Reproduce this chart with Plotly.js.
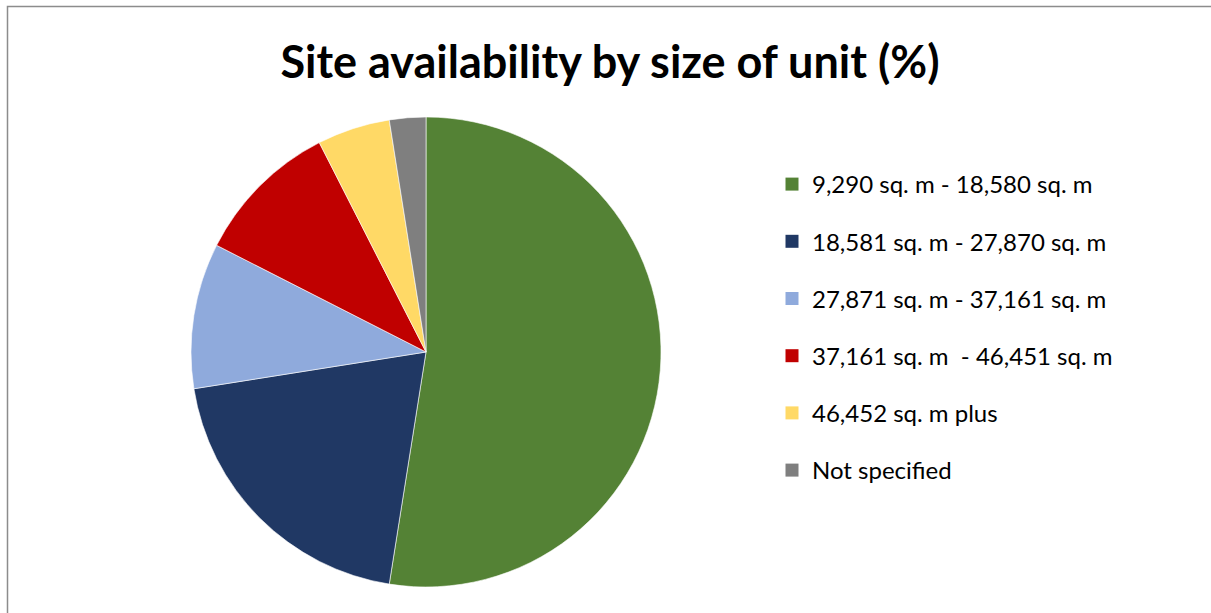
<!DOCTYPE html>
<html>
<head>
<meta charset="utf-8">
<script src="https://cdn.plot.ly/plotly-3.0.1.min.js"></script>
<style>
  html, body { margin: 0; padding: 0; background: #ffffff; }
  #chart { width: 1211px; height: 613px; }
</style>
</head>
<body>
<div id="chart"></div>
<script>
const categories = [
  "9,290 sq. m - 18,580 sq. m",
  "18,581 sq. m - 27,870 sq. m",
  "27,871 sq. m - 37,161 sq. m",
  "37,161 sq. m  - 46,451 sq. m",
  "46,452 sq. m plus",
  "Not specified"
];
const values = [52.5, 20, 10, 10, 5, 2.5];
const colors = ["#548235", "#203864", "#8FAADC", "#C00000", "#FFD966", "#7F7F7F"];
const chartTitle = "Site availability by size of unit (%)";

const W = 1211, H = 613;

const pie = {
  type: "pie",
  labels: categories,
  values: values,
  sort: false,
  direction: "clockwise",
  rotation: 0,
  textinfo: "none",
  hoverinfo: "label+value",
  showlegend: false,
  marker: { colors: colors, line: { color: "#ffffff", width: 0.6 } },
  domain: { x: [191 / W, 661 / W], y: [1 - 587 / H, 1 - 117 / H] }
};

const legendTraces = categories.map((c, i) => ({
  type: "scatter",
  mode: "markers",
  x: [null], y: [null],
  name: c,
  legendgroup: "g" + i,
  marker: { symbol: "square", size: 13, color: colors[i] },
  hoverinfo: "skip"
}));

const layout = {
  width: W, height: H,
  margin: { l: 0, r: 0, t: 0, b: 0 },
  paper_bgcolor: "#ffffff",
  plot_bgcolor: "#ffffff",
  font: { family: "Lato, 'Open Sans', sans-serif", color: "#000000" },
  title: {
    text: "<b>" + chartTitle + "</b>",
    font: { family: "Lato, 'Open Sans', sans-serif", size: 45, color: "#000000" },
    x: 610 / W, xanchor: "center",
    y: 1 - 62 / H, yanchor: "middle",
    xref: "paper", yref: "paper"
  },
  xaxis: { visible: false },
  yaxis: { visible: false },
  showlegend: true,
  legend: {
    x: 772 / W, xanchor: "left",
    y: 1 - 162 / H, yanchor: "top",
    font: { size: 24, color: "#000000" },
    tracegroupgap: 23,
    bgcolor: "rgba(0,0,0,0)",
    itemclick: false, itemdoubleclick: false
  },
  shapes: [{
    type: "rect", xref: "paper", yref: "paper",
    x0: 7.5 / W, x1: 1.02, y0: -0.02, y1: 1 - 6.5 / H,
    line: { color: "#8c8c8c", width: 1.5 },
    fillcolor: "rgba(0,0,0,0)"
  }]
};

Plotly.newPlot("chart", [pie].concat(legendTraces), layout, { displayModeBar: false, staticPlot: true });
</script>
</body>
</html>
